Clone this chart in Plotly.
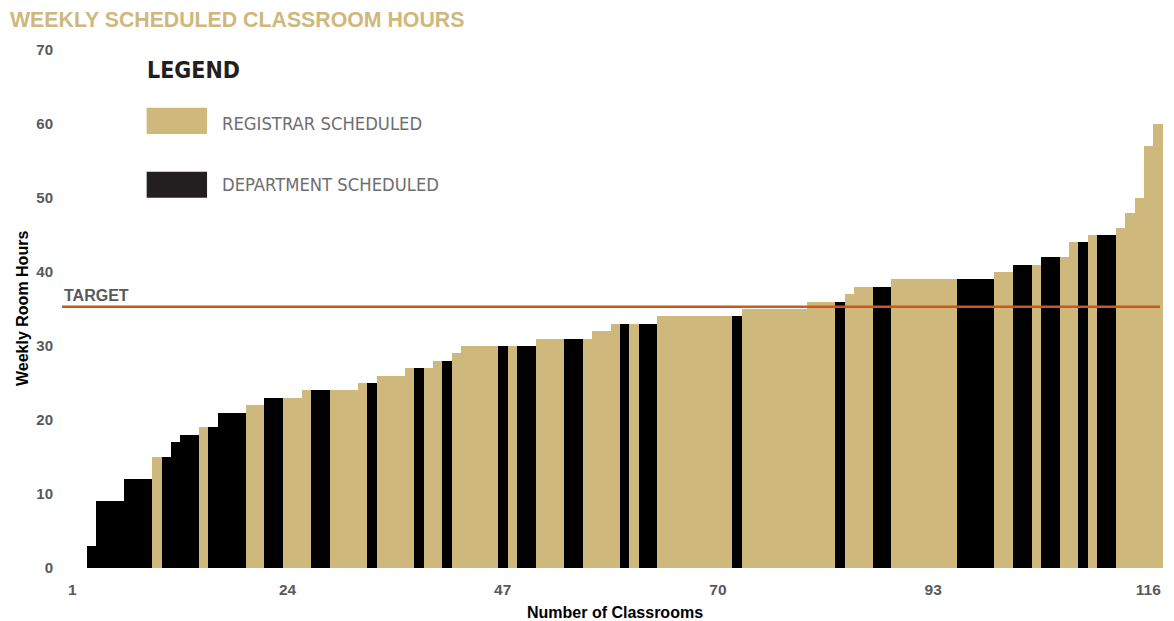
import plotly.graph_objects as go

# Weekly scheduled hours per classroom, sorted from least to most used
classrooms = list(range(1, 117))
hours = [
    0, 3, 9, 9, 9, 12, 12, 12, 15, 15,
    17, 18, 18, 19, 19, 21, 21, 21, 22, 22,
    23, 23, 23, 23, 24, 24, 24, 24, 24, 24,
    25, 25, 26, 26, 26, 27, 27, 27, 28, 28,
    29, 30, 30, 30, 30, 30, 30, 30, 30, 31,
    31, 31, 31, 31, 31, 32, 32, 33, 33, 33,
    33, 33, 34, 34, 34, 34, 34, 34, 34, 34,
    34, 35, 35, 35, 35, 35, 35, 35, 36, 36,
    36, 36, 37, 38, 38, 38, 38, 39, 39, 39,
    39, 39, 39, 39, 39, 39, 39, 39, 40, 40,
    41, 41, 41, 42, 42, 42, 44, 44, 45, 45,
    45, 46, 48, 50, 57, 60,
]
# R = registrar scheduled, D = department scheduled
scheduler = [
    "D", "D", "D", "D", "D", "D", "D", "D", "R", "D",
    "D", "D", "D", "R", "D", "D", "D", "D", "R", "R",
    "D", "D", "R", "R", "R", "D", "D", "R", "R", "R",
    "R", "D", "R", "R", "R", "R", "D", "R", "R", "D",
    "R", "R", "R", "R", "R", "D", "R", "D", "D", "R",
    "R", "R", "D", "D", "R", "R", "R", "R", "D", "R",
    "D", "D", "R", "R", "R", "R", "R", "R", "R", "R",
    "D", "R", "R", "R", "R", "R", "R", "R", "R", "R",
    "R", "D", "R", "R", "R", "D", "D", "R", "R", "R",
    "R", "R", "R", "R", "D", "D", "D", "D", "R", "R",
    "D", "D", "R", "D", "D", "R", "R", "D", "R", "D",
    "D", "R", "R", "R", "R", "R",
]
x_ticks = [1, 24, 47, 70, 93, 116]
y_ticks = [0, 10, 20, 30, 40, 50, 60, 70]
target_hours = 35.3

GOLD = "#CFB87C"
BLACK = "#000000"
ORANGE = "#C9591C"
GREY = "#58595B"

fig = go.Figure()
for code, name, color in [("R", "Registrar Scheduled", GOLD),
                          ("D", "Department Scheduled", BLACK)]:
    xs = [c for c, s in zip(classrooms, scheduler) if s == code]
    ys = [h for h, s in zip(hours, scheduler) if s == code]
    fig.add_trace(go.Bar(
        x=xs, y=ys, name=name, width=1, offset=0,
        marker=dict(color=color, line=dict(width=0)),
        showlegend=False,
    ))

# Target line and its label
fig.add_shape(type="line", xref="paper", yref="y",
              x0=0.0018, x1=0.9964, y0=target_hours, y1=target_hours,
              line=dict(color=ORANGE, width=2.5))
fig.add_annotation(xref="paper", yref="y", x=0.0018, y=target_hours,
                   text="<b>TARGET</b>", showarrow=False,
                   xanchor="left", yanchor="middle", yshift=11,
                   font=dict(family="Liberation Sans, Arial", size=16, color=GREY))

# Hand-built legend
LEG_FONT = "DejaVu Sans Condensed, Liberation Sans"
fig.add_annotation(xref="paper", yref="paper", x=0.0785, y=0.9614,
                   text="<b>LEGEND</b>", showarrow=False,
                   xanchor="left", yanchor="middle", xshift=-2,
                   font=dict(family=LEG_FONT, size=23, color="#231F20"))
fig.add_shape(type="rect", xref="paper", yref="paper",
              x0=0.0785, x1=0.1332, y0=0.8378, y1=0.8886,
              fillcolor=GOLD, line=dict(width=0))
fig.add_shape(type="rect", xref="paper", yref="paper",
              x0=0.0785, x1=0.1332, y0=0.7149, y1=0.7651,
              fillcolor="#231F20", line=dict(width=0))
fig.add_annotation(xref="paper", yref="paper", x=0.1467, y=0.858,
                   text="REGISTRAR SCHEDULED", showarrow=False,
                   xanchor="left", yanchor="middle", xshift=-2,
                   font=dict(family=LEG_FONT, size=18.3, color="#6D6E71"))
fig.add_annotation(xref="paper", yref="paper", x=0.1467, y=0.7394,
                   text="DEPARTMENT SCHEDULED", showarrow=False,
                   xanchor="left", yanchor="middle", xshift=-2,
                   font=dict(family=LEG_FONT, size=18.3, color="#6D6E71"))

# Axis titles
fig.add_annotation(xref="paper", yref="paper", x=-0.0344, y=0.5,
                   text="<b>Weekly Room Hours</b>", showarrow=False,
                   textangle=-90, xanchor="center", yanchor="middle",
                   font=dict(family="Liberation Sans, Arial", size=16, color="#000000"))
fig.add_annotation(xref="paper", yref="paper", x=0.5027, y=-0.085,
                   text="<b>Number of Classrooms</b>", showarrow=False,
                   xanchor="center", yanchor="middle",
                   font=dict(family="Liberation Sans, Arial", size=16, color="#000000"))

fig.update_layout(
    width=1174, height=621,
    margin=dict(l=60, r=10, t=50, b=53),
    paper_bgcolor="white", plot_bgcolor="white",
    barmode="overlay", bargap=0,
    title=dict(text="<b>WEEKLY SCHEDULED CLASSROOM HOURS</b>",
               xref="container", yref="container",
               x=10 / 1174, y=1 - 20 / 621, xanchor="left", yanchor="middle",
               font=dict(family="Liberation Sans, Arial", size=21.3, color=GOLD)),
    xaxis=dict(range=[-0.849, 117.14], tickvals=x_ticks,
               ticktext=[str(v) for v in x_ticks],
               showgrid=False, zeroline=False, showline=False, ticks="",
               ticklabelshift=-5, ticklabelstandoff=10,
               tickfont=dict(family="Liberation Sans, Arial", size=15.5, color=GREY,
                             weight="bold")),
    yaxis=dict(range=[0, 70], tickvals=y_ticks,
               showgrid=False, zeroline=False, showline=False, ticks="",
               ticklabelstandoff=6,
               tickfont=dict(family="Liberation Sans, Arial", size=15, color=GREY,
                             weight="bold")),
    font=dict(family="Liberation Sans, Arial"),
)

fig.write_html("out.html")
